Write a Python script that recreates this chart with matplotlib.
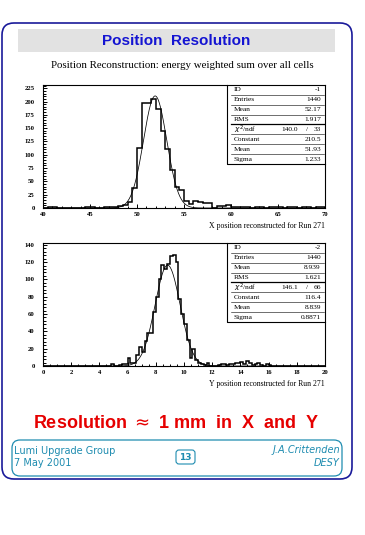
import matplotlib.pyplot as plt
import numpy as np
from matplotlib.patches import FancyBboxPatch
from matplotlib.ticker import MultipleLocator

# ---- data ----
# X position histogram: 60 bins of 0.5 from 40 to 70
x_edges = np.linspace(40, 70, 61)
x_counts = [
    0, 1, 1, 0, 0, 0, 0, 0, 0, 1,
    1, 0, 0, 1, 1, 2, 3, 5, 12, 37,
    113, 198, 198, 204, 186, 144, 110, 72, 39, 34,
    14, 7, 13, 11, 10, 10, 0, 4, 4, 6,
    2, 1, 1, 1, 0, 1, 1, 0, 1, 2,
    1, 0, 1, 2, 0, 1, 1, 0, 1, 1,
]
x_fit = [210.5, 51.93, 1.233]  # constant, mean, sigma
x_stats = [("ID", "-1"), ("Entries", "1440"), ("Mean", "52.17"), ("RMS", "1.917")]
x_chi2 = ("140.0", "33")

# Y position histogram: 100 bins of 0.2 from 0 to 20
y_edges = np.linspace(0, 20, 101)
y_counts = [
    0, 0, 0, 0, 0, 0, 0, 0, 0, 0,
    0, 0, 0, 0, 0, 0, 0, 0, 0, 0,
    0, 0, 0, 0, 2, 0, 0, 1, 2, 2,
    9, 3, 4, 13, 22, 16, 29, 38, 38, 62,
    80, 100, 117, 112, 118, 127, 128, 120, 77, 60,
    48, 30, 9, 20, 7, 4, 2, 1, 3, 0,
    0, 0, 1, 2, 2, 1, 2, 2, 3, 3,
    5, 2, 6, 3, 1, 2, 4, 1, 0, 2,
    1, 0, 0, 0, 0, 0, 0, 0, 0, 0,
    0, 0, 0, 0, 0, 0, 0, 0, 0, 0,
]
y_fit = [116.4, 8.839, 0.8871]
y_stats = [("ID", "-2"), ("Entries", "1440"), ("Mean", "8.939"), ("RMS", "1.621")]
y_chi2 = ("146.1", "66")

serif = "Liberation Serif"
sans = "Liberation Sans"
wide = "DejaVu Sans"

fig = plt.figure(figsize=(3.65, 5.35), dpi=100)
W, H = 365, 535


def px_box(x0, y0, x1, y1, **kw):
    # rectangle given in pixel coords from top-left, drawn in inches
    p = FancyBboxPatch((x0 / 100, (H - y1) / 100), (x1 - x0) / 100, (y1 - y0) / 100,
                       transform=fig.dpi_scale_trans, **kw)
    fig.patches.append(p)


def fig_text(x, y, s, **kw):
    fig.text(x / W, 1 - y / H, s, **kw)


# outer frame and title bar
px_box(2, 23, 352, 479, boxstyle="round,pad=0,rounding_size=0.12",
       facecolor="none", edgecolor="#1a1a9a", linewidth=1.2)
px_box(18, 29, 335, 52, boxstyle="square,pad=0", facecolor="#e2e2e2",
       edgecolor="none")
fig_text(176, 41, "Position  Resolution", ha="center", va="center",
         color="#1414d2", fontsize=11, fontweight="bold", family=sans)
fig_text(182, 66, "Position Reconstruction: energy weighted sum over all cells",
         ha="center", va="center", fontsize=7.8, family=serif)


def hist_panel(rect, edges, counts, fit, stats, chi2, xlim, ylim,
               xmaj, xmin, ymaj, ymin, xlabel):
    ax = fig.add_axes(rect)
    ax.stairs(counts, edges, color="black", linewidth=1.1)
    xs = np.linspace(xlim[0], xlim[1], 800)
    c, m, s = fit
    ax.plot(xs, c * np.exp(-0.5 * ((xs - m) / s) ** 2), color="black",
            linewidth=0.55)
    ax.set_xlim(xlim)
    ax.set_ylim(ylim)
    ax.xaxis.set_major_locator(MultipleLocator(xmaj))
    ax.xaxis.set_minor_locator(MultipleLocator(xmin))
    ax.yaxis.set_major_locator(MultipleLocator(ymaj))
    ax.yaxis.set_minor_locator(MultipleLocator(ymin))
    ax.tick_params(which="both", direction="in", width=0.7, labelsize=4.8)
    ax.tick_params(axis="x", pad=3)
    ax.tick_params(axis="y", pad=6)
    ax.tick_params(which="major", length=3.2)
    ax.tick_params(which="minor", length=1.8)
    for lab in ax.get_xticklabels() + ax.get_yticklabels():
        lab.set_family(serif)
        lab.set_fontweight("bold")
    for sp in ax.spines.values():
        sp.set_linewidth(0.8)
    ax.text(1.0, -0.115, xlabel, transform=ax.transAxes, ha="right", va="top",
            fontsize=5.6, family=serif)

    # statistics box
    bx0, by0 = 0.652, 0.358
    rh = (1 - by0) / 8
    ax.plot([bx0, bx0, 1], [1, by0, by0], transform=ax.transAxes,
            color="black", linewidth=0.8, clip_on=False)
    fs = 5.3
    rows = stats + [(r"$\chi^2$/ndf", None), ("Constant", f"{fit[0]}"),
                    ("Mean", f"{fit[1]}"), ("Sigma", f"{fit[2]}")]
    for i, (name, val) in enumerate(rows):
        yc = 1 - (i + 0.5) * rh
        ax.text(bx0 + 0.025, yc, name, transform=ax.transAxes, ha="left",
                va="center", fontsize=fs, family=serif)
        if val is None:
            ax.text(0.905, yc, chi2[0], transform=ax.transAxes, ha="right",
                    va="center", fontsize=fs, family=serif)
            ax.text(0.937, yc, "/", transform=ax.transAxes, ha="center",
                    va="center", fontsize=fs, family=serif)
            ax.text(0.985, yc, chi2[1], transform=ax.transAxes, ha="right",
                    va="center", fontsize=fs, family=serif)
        else:
            ax.text(0.985, yc, val, transform=ax.transAxes, ha="right",
                    va="center", fontsize=fs, family=serif)
        if i < 7:
            ly = 1 - (i + 1) * rh
            lw = 0.9 if i == 3 else 0.4
            ax.plot([bx0 + 0.015, 0.995], [ly, ly], transform=ax.transAxes,
                    color="black", linewidth=lw)
    return ax


hist_panel([43 / W, 1 - 208 / H, 282 / W, 123 / H], x_edges, x_counts, x_fit,
           x_stats, x_chi2, (40, 70), (0, 231), 5, 1, 25, 5,
           "X position reconstructed for Run 271")
hist_panel([43 / W, 1 - 366 / H, 282 / W, 123 / H], y_edges, y_counts, y_fit,
           y_stats, y_chi2, (0, 20), (0, 142), 2, 0.5, 20, 4,
           "Y position reconstructed for Run 271")

# summary line
fig_text(176, 424, "Resolution $\\approx$ 1 mm  in  X  and  Y", ha="center",
         va="center", color="#e60000", fontsize=13, fontweight="bold",
         family=sans)

# footer
teal = "#1e8cb0"
px_box(12, 440, 342, 476, boxstyle="round,pad=0,rounding_size=0.08",
       facecolor="none", edgecolor=teal, linewidth=0.9)
fig_text(14, 451, "Lumi Upgrade Group", ha="left", va="center", color=teal,
         fontsize=7, family=wide)
fig_text(14, 463, "7 May 2001", ha="left", va="center", color=teal,
         fontsize=7, family=wide)
px_box(176, 450, 195, 464, boxstyle="round,pad=0,rounding_size=0.03",
       facecolor="none", edgecolor=teal, linewidth=0.8)
fig_text(185.5, 457, "13", ha="center", va="center", color=teal,
         fontsize=6.5, fontweight="bold", family=wide)
fig_text(340, 450, "J.A.Crittenden", ha="right", va="center", color=teal,
         fontsize=7, style="italic", family=wide)
fig_text(340, 463, "DESY", ha="right", va="center", color=teal,
         fontsize=7, style="italic", family=wide)

plt.savefig("out.png", dpi=100)
